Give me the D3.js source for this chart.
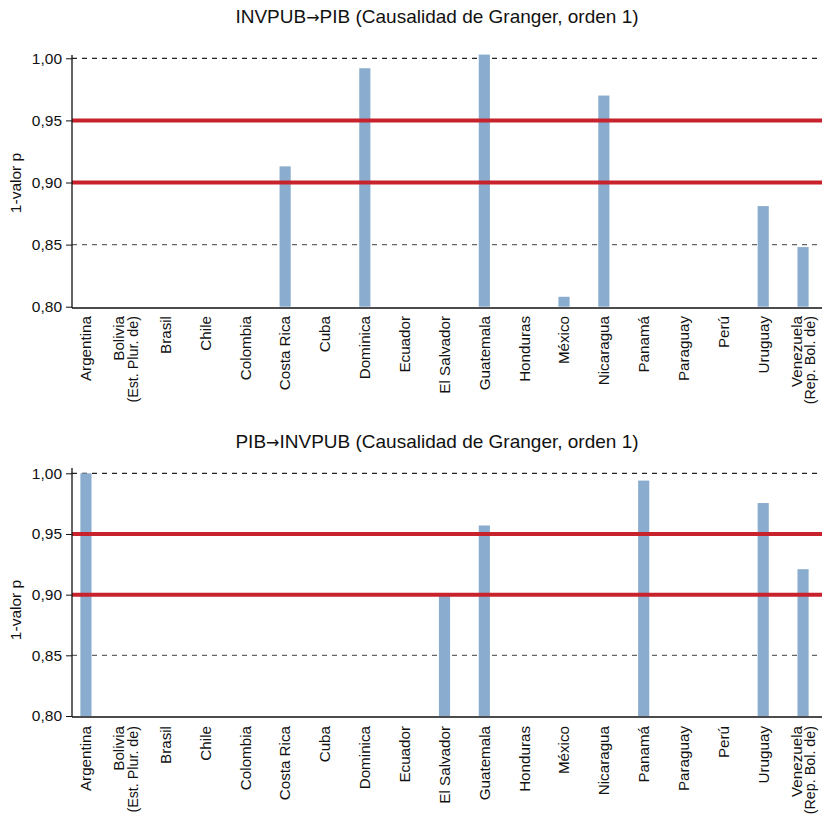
<!DOCTYPE html>
<html>
<head>
<meta charset="utf-8">
<script src="https://cdn.jsdelivr.net/npm/d3@7"></script>
<style>
  html, body { margin: 0; padding: 0; background: #fff; }
  svg { display: block; font-family: "Liberation Sans", Arial, sans-serif; }
</style>
</head>
<body>
<svg id="chart" width="822" height="817"></svg>
<script>
// ---- Data ----
const countries = ["Argentina", "Bolivia (Est. Plur. de)", "Brasil", "Chile", "Colombia", "Costa Rica", "Cuba",
  "Dominica", "Ecuador", "El Salvador", "Guatemala", "Honduras", "México", "Nicaragua", "Panamá",
  "Paraguay", "Perú", "Uruguay", "Venezuela (Rep. Bol. de)"];
const countryLabelLines = [["Argentina"], ["Bolivia", "(Est. Plur. de)"], ["Brasil"], ["Chile"], ["Colombia"],
  ["Costa Rica"], ["Cuba"], ["Dominica"], ["Ecuador"], ["El Salvador"], ["Guatemala"], ["Honduras"],
  ["México"], ["Nicaragua"], ["Panamá"], ["Paraguay"], ["Perú"], ["Uruguay"], ["Venezuela", "(Rep. Bol. de)"]];
// 1 - p-value, null = no bar shown (below 0.80)
const invpubToPib = [null, null, null, null, null, 0.913, null, 0.992, null, null, 1.003, null, 0.808, 0.970,
  null, null, null, 0.881, 0.848];
const pibToInvpub = [1.000, null, null, null, null, null, null, null, null, 0.900, 0.957, null, null, null,
  0.994, null, null, 0.9755, 0.921];
const yTicks = [0.80, 0.85, 0.90, 0.95, 1.00];
const dashedLevels = [0.85, 0.95, 1.00];
const thresholdLevels = [0.90, 0.95];
const titleParts = [["INVPUB", "PIB"], ["PIB", "INVPUB"]];
const titleSuffix = " (Causalidad de Granger, orden 1)";
const yTitle = "1-valor p";

// ---- Layout ----
const svg = d3.select("#chart");
const xLeft = 72, xRight = 817, xAxisEnd = 822;
const panels = [
  { values: invpubToPib, parts: titleParts[0], titleY: 23, yTop: 58.3, yBot: 306.7, axisY: 308, axisTop: 55, labelY: 316, yTitleY: 183 },
  { values: pibToInvpub, parts: titleParts[1], titleY: 448, yTop: 473.3, yBot: 716, axisY: 717, axisTop: 468, labelY: 726, yTitleY: 610 }
];

const x = d3.scaleBand().domain(countries).range([xLeft, xRight]).paddingInner(0.72).paddingOuter(0.21);
const fmt = d => d3.format(".2f")(d).replace(".", ",");

panels.forEach(p => {
  const y = d3.scaleLinear().domain([0.80, 1.00]).range([p.yBot, p.yTop]);
  const g = svg.append("g");

  // title
  const t = g.append("text").attr("x", 437).attr("y", p.titleY).attr("text-anchor", "middle")
    .attr("font-size", 19).attr("fill", "#111");
  t.append("tspan").text(p.parts[0]);
  t.append("tspan").attr("font-family", "DejaVu Sans").attr("font-size", 16).text("\u2192");
  t.append("tspan").text(p.parts[1] + titleSuffix);

  // dashed grid lines
  g.selectAll("line.grid").data(dashedLevels).join("line")
    .attr("x1", xLeft).attr("x2", xRight)
    .attr("y1", d => y(d)).attr("y2", d => y(d))
    .attr("stroke", d => d === 1.00 ? "#222" : "#666").attr("stroke-width", 1.2)
    .attr("stroke-dasharray", "5,5");

  // bars
  const data = countries.map((c, i) => ({ c, v: p.values[i] })).filter(d => d.v != null);
  g.selectAll("rect.bar").data(data).join("rect")
    .attr("x", d => x(d.c)).attr("width", x.bandwidth())
    .attr("y", d => y(d.v)).attr("height", d => y(0.80) - y(d.v))
    .attr("fill", "#8aadcf");

  // threshold lines
  g.selectAll("line.thr").data(thresholdLevels).join("line")
    .attr("x1", xLeft).attr("x2", xAxisEnd)
    .attr("y1", d => y(d)).attr("y2", d => y(d))
    .attr("stroke", "#c8232c").attr("stroke-width", 4);

  // y axis
  const yAxis = d3.axisLeft(y).tickValues(yTicks).tickFormat(fmt).tickSize(6).tickPadding(4);
  const ya = g.append("g").attr("transform", `translate(${xLeft},0)`).call(yAxis);
  ya.select(".domain").remove();
  ya.selectAll("text").attr("font-size", 15.5).attr("fill", "#111").attr("font-family", "Liberation Sans, Arial, sans-serif");
  ya.selectAll("line").attr("stroke", "#111");
  g.append("line").attr("x1", xLeft).attr("x2", xLeft).attr("y1", p.axisTop).attr("y2", p.axisY)
    .attr("stroke", "#111").attr("stroke-width", 1.3);

  // x axis line
  g.append("line").attr("x1", xLeft).attr("x2", xAxisEnd).attr("y1", p.axisY).attr("y2", p.axisY)
    .attr("stroke", "#111").attr("stroke-width", 1.5);

  // x labels
  const lab = g.selectAll("text.xl").data(countries).join("text")
    .attr("transform", d => `translate(${x(d) + x.bandwidth() / 2},${p.labelY}) rotate(-90)`)
    .attr("text-anchor", "end").attr("font-size", 15.2).attr("fill", "#111");
  lab.each(function(d, i) {
    const lines = countryLabelLines[i];
    const n = lines.length;
    d3.select(this).selectAll("tspan").data(lines).join("tspan")
      .attr("x", 0)
      .attr("y", (l, j) => (j - (n - 1) / 2) * 13.5)
      .attr("dy", "0.35em")
      .attr("font-size", (l, j) => j > 0 ? 14.3 : null)
      .text(l => l);
  });

  // y title
  g.append("text").attr("transform", `translate(16,${p.yTitleY}) rotate(-90)`)
    .attr("text-anchor", "middle").attr("dy", "0.35em").attr("font-size", 15.5).attr("fill", "#111").text(yTitle);
});
</script>
</body>
</html>
